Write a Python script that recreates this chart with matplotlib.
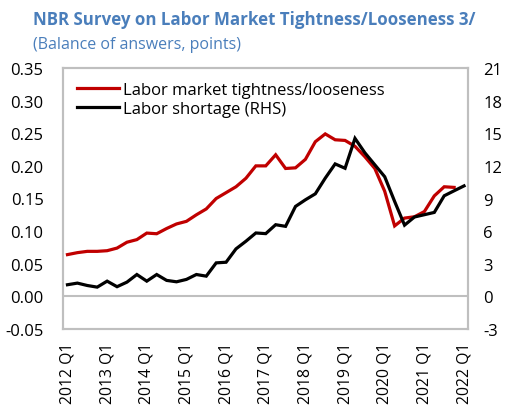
import matplotlib
matplotlib.use("Agg")
import matplotlib.pyplot as plt
import numpy as np

plt.rcParams['font.family'] = ['Open Sans', 'DejaVu Sans']
plt.rcParams['axes.unicode_minus'] = False

years = list(range(2012, 2023))
tick_labels = [f"{y} Q1" for y in years]

tightness = [0.064, 0.067, 0.069, 0.069, 0.070, 0.074, 0.083, 0.087, 0.097, 0.096,
             0.104, 0.111, 0.115, 0.125, 0.134, 0.150, 0.159, 0.168, 0.181, 0.200,
             0.200, 0.217, 0.196, 0.197, 0.210, 0.237, 0.249, 0.240, 0.239, 0.230,
             0.214, 0.196, 0.161, 0.108, 0.120, 0.122, 0.130, 0.154, 0.168, 0.167]

shortage = [1.07, 1.22, 1.00, 0.85, 1.40, 0.89, 1.31, 2.01, 1.40, 2.01,
            1.47, 1.34, 1.56, 2.01, 1.86, 3.08, 3.14, 4.37, 5.07, 5.83,
            5.77, 6.59, 6.44, 8.27, 8.88, 9.43, 10.87, 12.18, 11.78, 14.53,
            13.20, 12.10, 11.00, 8.73, 6.55, 7.30, 7.51, 7.72, 9.25, 9.71, 10.16]

W, H = 506, 406
fig = plt.figure(figsize=(W/100, H/100), dpi=100)
L, R, B, T = 63, 468, 330, 69
ax = fig.add_axes([L/W, 1-B/H, (R-L)/W, (B-T)/H])
ax2 = ax.twinx()

grey = '#BFBFBF'
red = '#C00000'

left_ticks = np.arange(-0.05, 0.351, 0.05)
ax.set_ylim(-0.05, 0.35)
ax.set_yticks(left_ticks)
ax.set_yticklabels([f"{v:.2f}".replace("\u2212", "-") for v in left_ticks])
right_ticks = list(range(-3, 22, 3))
ax2.set_ylim(-3, 21)
ax2.set_yticks(right_ticks)
ax2.set_yticklabels([str(v) for v in right_ticks])

ax.axhline(0, color=grey, lw=1.5, zorder=1)

x_t = np.arange(len(tightness))
x_s = np.arange(len(shortage))
l1, = ax.plot(x_t, tightness, color=red, lw=2.3, solid_joinstyle='miter', zorder=3,
              label='Labor market tightness/looseness')
l2, = ax2.plot(x_s, shortage, color='black', lw=2.3, solid_joinstyle='miter', zorder=3,
               label='Labor shortage (RHS)')

ax.set_xlim(-0.45, 40.4)
ax.set_xticks(np.arange(0, 41, 4))
ax.set_xticklabels(tick_labels, rotation=90)

for a in (ax, ax2):
    for s in a.spines.values():
        s.set_color(grey)
        s.set_linewidth(1.5)
    a.tick_params(length=0, labelsize=12, colors='black')
ax.tick_params(axis='y', pad=14)
ax2.tick_params(axis='y', pad=11)
ax.tick_params(axis='x', pad=9, labelsize=11.3)

leg = ax.legend(handles=[l1, l2], loc='upper left', frameon=False, fontsize=12,
                handlelength=2.5, handletextpad=0.25, labelspacing=0.15,
                bbox_to_anchor=(0.0, 1.0), borderaxespad=0.45)

fig.text(33/W, 1-20/H, "NBR Survey on Labor Market Tightness/Looseness 3/",
         color='#4A7EBB', fontsize=12.2, fontweight='bold', va='center', ha='left')
fig.text(33/W, 1-45/H, "(Balance of answers, points)",
         color='#4A7EBB', fontsize=11.5, va='center', ha='left')

fig.savefig('out.png', dpi=100)
